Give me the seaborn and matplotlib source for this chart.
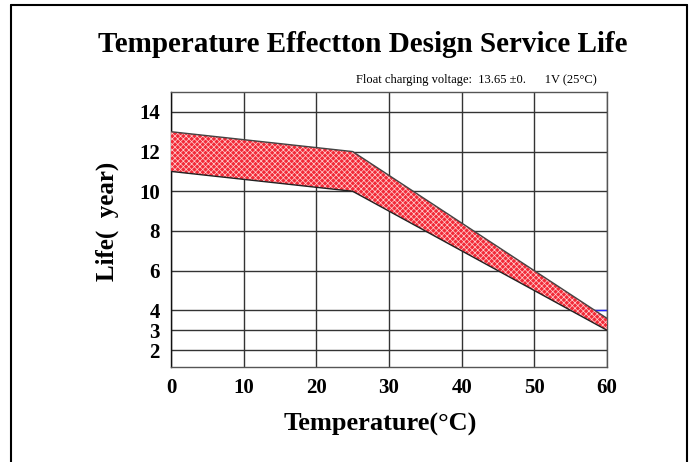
import matplotlib
matplotlib.use("Agg")
import matplotlib.pyplot as plt
import seaborn as sns
import pandas as pd
from matplotlib.lines import Line2D

# ---- data ----
temps = [0, 25, 60]
life_upper = [13.0, 12.0, 3.6]
life_lower = [11.0, 10.0, 3.0]
x_ticks = [0, 10, 20, 30, 40, 50, 60]
y_ticks = [2, 3, 4, 6, 8, 10, 12, 14]
marker_x = [58, 60]
marker_y = [4, 4]

title = "Temperature Effectton Design Service Life"
subtitle = "Float charging voltage:  13.65 \u00b10.      1V (25\u00b0C)"
xlabel = "Temperature(\u00b0C)"
ylabel = "Life(  year)"

sns.set_theme(style="white")
plt.rcParams["font.family"] = ["Liberation Serif", "DejaVu Serif"]
plt.rcParams["hatch.linewidth"] = 0.5
plt.rcParams["text.color"] = "black"
plt.rcParams["axes.labelcolor"] = "black"
plt.rcParams["xtick.color"] = "black"
plt.rcParams["ytick.color"] = "black"

fig = plt.figure(figsize=(6.96, 4.62), dpi=100)
ax = fig.add_axes([171/696, 1-367/462, (607-171)/696, (367-92)/462])

df = pd.DataFrame({"temp": temps, "upper": life_upper, "lower": life_lower})

ax.fill_between(df["temp"], df["lower"], df["upper"], facecolor="#f22a38",
                edgecolor="#ffd0d0", hatch="xxxxxx", linewidth=0, zorder=3)
sns.lineplot(data=df, x="temp", y="upper", ax=ax, color="#444444", lw=1.0, zorder=4)
sns.lineplot(data=df, x="temp", y="lower", ax=ax, color="#222222", lw=1.0, zorder=4)
ax.plot(marker_x, marker_y, color="#2020ff", lw=1.0, zorder=2)

ax.set_xlim(0, 60)
ax.set_ylim(1.15, 15.0)
ax.set_xticks(x_ticks)
ax.set_yticks(y_ticks)
ax.grid(True, color="#333333", lw=1.0)
ax.set_axisbelow(True)
for s in ax.spines.values():
    s.set_color("#555555")
    s.set_linewidth(1.0)
ax.spines["left"].set_color("#111111")
ax.tick_params(length=0, labelsize=15, pad=8)
for lab in ax.get_xticklabels() + ax.get_yticklabels():
    lab.set_fontweight("bold")
ax.set_xlabel(xlabel, fontsize=19, fontweight="bold")
ax.set_ylabel(ylabel, fontsize=18, fontweight="bold")
ax.xaxis.set_label_coords((380-171)/436, -(424-367)/275)
ax.yaxis.set_label_coords(-(171-107)/436, (367-221)/275)
ax.xaxis.label.set_va("center")
ax.yaxis.label.set_va("center")

fig.text(0.5 + 15/696, 1-45/462, title, ha="center", va="center", fontsize=21, fontweight="bold")
fig.text(597/696, 1-80/462, subtitle, ha="right", va="center", fontsize=9)

# page border
fig.add_artist(Line2D([11/696, 11/696], [0, 1-5/462], color="black", lw=1.5))
fig.add_artist(Line2D([687/696, 687/696], [0, 1-5/462], color="black", lw=1.5))
fig.add_artist(Line2D([11/696, 687/696], [1-5/462, 1-5/462], color="black", lw=1.5))

fig.savefig("out.png", dpi=100)
